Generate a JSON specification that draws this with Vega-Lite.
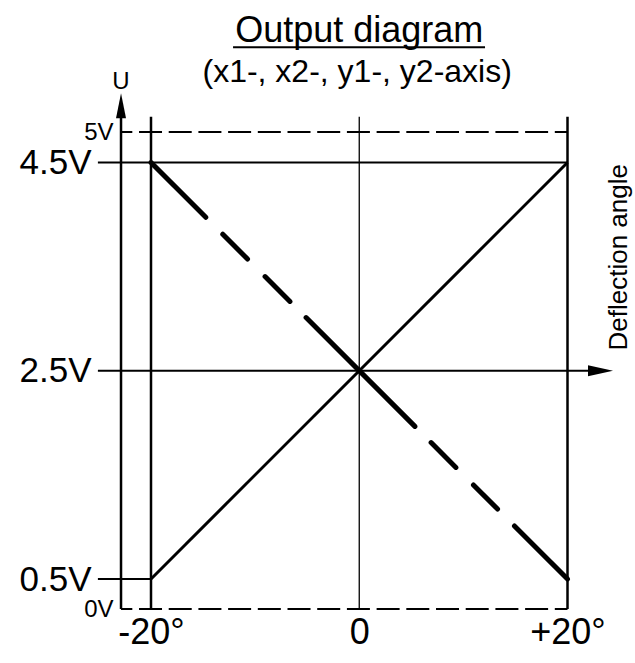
{
  "$schema": "https://vega.github.io/schema/vega-lite/v6.json",
  "autosize": {"type": "none"},
  "width": 446.5,
  "height": 477,
  "padding": {"left": 121, "top": 132, "right": 67.5, "bottom": 54},
  "background": "white",
  "config": {"view": {"stroke": null}, "font": "Liberation Sans"},
  "encoding": {
    "x": {
      "field": "a", "type": "quantitative",
      "scale": {"domain": [-20, 20], "range": [30, 446.5], "zero": false, "nice": false},
      "axis": {
        "values": [-20, 0, 20],
        "labelExpr": "datum.value < 0 ? datum.value + '°' : (datum.value > 0 ? '+' + datum.value + '°' : '0')",
        "title": null, "domain": false, "ticks": false, "grid": false,
        "labelFontSize": 36, "labelPadding": 6, "labelColor": "black",
        "labelFont": "Liberation Sans", "labelFlush": false, "labelOverlap": false
      }
    },
    "y": {
      "field": "u", "type": "quantitative",
      "scale": {"domain": [0, 0.5, 4.5, 5], "range": [477, 447, 30.5, 0], "zero": false, "nice": false},
      "axis": {
        "values": [0, 0.5, 2.5, 4.5, 5],
        "labelExpr": "datum.value + 'V'",
        "title": null, "domain": false, "ticks": false, "grid": false,
        "labelColor": "black", "labelFont": "Liberation Sans", "labelOverlap": false, "labelFlush": false,
        "labelFontSize": {"condition": {"test": "datum.value == 0 || datum.value == 5", "value": 24}, "value": 35},
        "labelPadding": {"condition": {"test": "datum.value == 0 || datum.value == 5", "value": 8}, "value": 30}
      }
    }
  },
  "layer": [
    {
      "data": {"values": [{"a": -20, "u": 0, "u2": 5.25}, {"a": 20, "u": 0, "u2": 5.25}]},
      "mark": {"type": "rule", "color": "black", "strokeWidth": 2.5},
      "encoding": {"y2": {"field": "u2"}}
    },
    {
      "data": {"values": [{"a": 0, "u": 0, "u2": 5.25}]},
      "mark": {"type": "rule", "color": "black", "strokeWidth": 1.3},
      "encoding": {"y2": {"field": "u2"}}
    },
    {
      "data": {"values": [{"a": -22.88, "u": 0, "u2": 5.3}]},
      "mark": {"type": "rule", "color": "black", "strokeWidth": 2.5},
      "encoding": {"y2": {"field": "u2"}}
    },
    {
      "data": {"values": [
        {"a": -25.1, "a2": 20, "u": 4.5},
        {"a": -25.1, "a2": 23.2, "u": 2.5},
        {"a": -25.1, "a2": -20, "u": 0.5}
      ]},
      "mark": {"type": "rule", "color": "black", "strokeWidth": 2},
      "encoding": {"x2": {"field": "a2"}}
    },
    {
      "data": {"values": [{"a": -22.88, "a2": 20, "u": 5}, {"a": -22.88, "a2": 20, "u": 0}]},
      "mark": {"type": "rule", "color": "black", "strokeWidth": 2, "strokeDash": [23, 6.7], "strokeDashOffset": 11.7},
      "encoding": {"x2": {"field": "a2"}}
    },
    {
      "data": {"values": [{"a": -20, "u": 0.5, "a2": 20, "u2": 4.5}]},
      "mark": {"type": "rule", "color": "black", "strokeWidth": 3},
      "encoding": {"x2": {"field": "a2"}, "y2": {"field": "u2"}}
    },
    {
      "data": {"values": [{"a": -20, "u": 4.5, "a2": 20, "u2": 0.5}]},
      "mark": {"type": "rule", "color": "black", "strokeWidth": 5, "strokeCap": "round",
               "strokeDash": [77.5, 24, 35, 24.8, 35.2, 22.8, 153.9, 22.9, 35.1, 24.8, 34.1, 23.9, 100]},
      "encoding": {"x2": {"field": "a2"}, "y2": {"field": "u2"}}
    },
    {
      "data": {"values": [{"a": -22.88, "u": 5.43}]},
      "mark": {"type": "point", "shape": "M0,-1L0.4,1L-0.4,1Z", "size": 625, "filled": true, "color": "black", "opacity": 1, "strokeWidth": 0}
    },
    {
      "data": {"values": [{"a": 23.17, "u": 2.5}]},
      "mark": {"type": "point", "shape": "M1,0L-1,-0.44L-1,0.44Z", "size": 625, "filled": true, "color": "black", "opacity": 1, "strokeWidth": 0}
    },
    {
      "data": {"values": [{"a": -22.88, "u": 5.7, "label": "U"}]},
      "mark": {"type": "text", "fontSize": 24, "align": "center", "baseline": "alphabetic", "color": "black", "font": "Liberation Sans"},
      "encoding": {"text": {"field": "label"}}
    },
    {
      "data": {"values": [{"a": 24.95, "u": 3.59, "label": "Deflection angle"}]},
      "mark": {"type": "text", "fontSize": 26, "angle": 270, "align": "center", "baseline": "middle", "color": "black", "font": "Liberation Sans"},
      "encoding": {"text": {"field": "label"}}
    },
    {
      "data": {"values": [{"a": 0, "u": 6.48, "label": "Output diagram"}]},
      "mark": {"type": "text", "fontSize": 36, "align": "center", "baseline": "alphabetic", "color": "black", "font": "Liberation Sans"},
      "encoding": {"text": {"field": "label"}}
    },
    {
      "data": {"values": [{"a": -0.2, "u": 5.825, "label": "(x1-, x2-, y1-, y2-axis)"}]},
      "mark": {"type": "text", "fontSize": 32, "align": "center", "baseline": "alphabetic", "color": "black", "font": "Liberation Sans"},
      "encoding": {"text": {"field": "label"}}
    },
    {
      "data": {"values": [{"a": -12.12, "a2": 12.08, "u": 6.39}]},
      "mark": {"type": "rule", "color": "black", "strokeWidth": 2},
      "encoding": {"x2": {"field": "a2"}}
    }
  ]
}
